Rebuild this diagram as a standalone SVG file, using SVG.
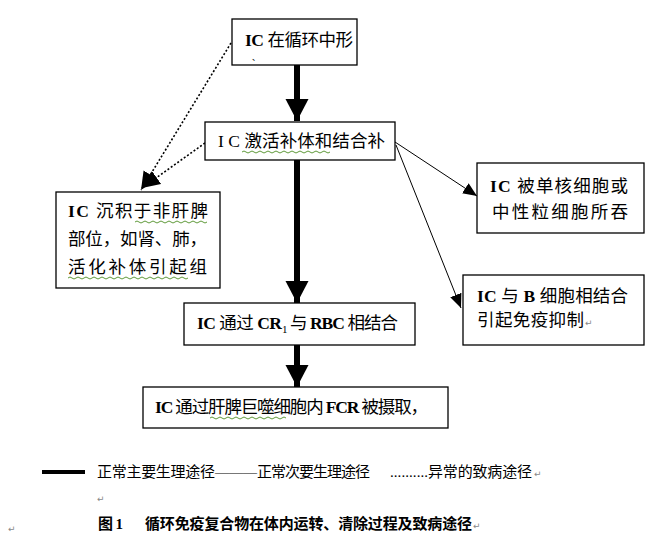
<svg xmlns="http://www.w3.org/2000/svg" width="665" height="540" viewBox="0 0 665 540">
<defs>
<style>
.box{fill:#fff;stroke:#000;stroke-width:1.3}
.t{font-family:"Liberation Serif","Noto Sans CJK SC",serif;font-size:17.5px;fill:#000}
.lt{font-family:"Liberation Serif","Noto Sans CJK SC",serif;font-size:15px;fill:#000}
.b{font-weight:bold}
.ret{font-family:"DejaVu Sans",sans-serif;font-size:9px;fill:#888}
.wave{fill:none;stroke:#5f9a3a;stroke-width:1}
.thick{stroke:#000;stroke-width:6;fill:none}
.thin{stroke:#000;stroke-width:1;fill:none}
.dot{stroke:#000;stroke-width:1.6;stroke-dasharray:2 2;fill:none}
</style>
<marker id="mThick" markerUnits="userSpaceOnUse" markerWidth="24" markerHeight="24" refX="22" refY="11.5" orient="auto"><path d="M0,0 L22,11.5 L0,23 z" fill="#000"/></marker>
<marker id="mThin" markerUnits="userSpaceOnUse" markerWidth="16" markerHeight="14" refX="14" refY="6" orient="auto"><path d="M0,0 L14,6 L0,12 z" fill="#000"/></marker>
<marker id="mDot" markerUnits="userSpaceOnUse" markerWidth="20" markerHeight="18" refX="18" refY="8" orient="auto"><path d="M0,0 L18,8 L0,16 z" fill="#000"/></marker>
</defs>
<rect width="665" height="540" fill="#fff"/>

<g id="connectors">
<line class="thick" x1="297" y1="65" x2="297" y2="121" marker-end="url(#mThick)"/>
<line class="thick" x1="297" y1="160" x2="297" y2="303" marker-end="url(#mThick)"/>
<line class="thick" x1="297" y1="345" x2="297" y2="387" marker-end="url(#mThick)"/>
<line class="thin" x1="395" y1="142" x2="477" y2="196" marker-end="url(#mThin)"/>
<line class="thin" x1="396" y1="145" x2="461" y2="308" marker-end="url(#mThin)"/>
<line class="dot" x1="231" y1="43" x2="141" y2="190" marker-end="url(#mDot)"/>
<line class="dot" x1="205" y1="143" x2="142" y2="188" marker-end="url(#mDot)"/>
</g>

<g id="n1">
<rect class="box" x="232" y="19" width="125" height="46"/>
<text class="t" x="245" y="46" textLength="108" lengthAdjust="spacing"><tspan class="b">IC</tspan> 在循环中形</text>
<text class="t" x="252" y="60" style="font-size:8px">、</text>
</g>

<g id="n2">
<rect class="box" x="205" y="122" width="190" height="38"/>
<text class="t" x="218" y="147" textLength="167" lengthAdjust="spacing">I C 激活补体和结合补</text>
<path class="wave" d="M242,152 q2,-2 4,0 t4,0 t4,0 t4,0 t4,0 t4,0 t4,0 t4,0 t4,0 t4,0 t4,0 t4,0 t4,0 t4,0 t4,0 t4,0 t4,0 t4,0 t4,0 t4,0 t4,0 t4,0"/>
</g>

<g id="n3">
<rect class="box" x="56" y="192" width="164" height="96"/>
<text class="t" x="68" y="217" textLength="140" lengthAdjust="spacing"><tspan class="b">IC</tspan>  沉积于非肝脾</text>
<text class="t" x="68" y="245" textLength="139" lengthAdjust="spacing">部位，如肾、肺，</text>
<text class="t" x="68" y="273" textLength="139" lengthAdjust="spacing">活化补体引起组</text>
<path class="wave" d="M135,222 q2,-2 4,0 t4,0 t4,0 t4,0 t4,0 t4,0 t4,0 t4,0 t4,0 t4,0 t4,0 t4,0 t4,0 t4,0 t4,0 t4,0 t4,0 t4,0"/>
<path class="wave" d="M68,278 q2,-2 4,0 t4,0 t4,0 t4,0 t4,0 t4,0 t4,0 t4,0 t4,0 t4,0 t4,0 t4,0 t4,0 t4,0 t4,0 t4,0 t4,0 t4,0 t4,0 t4,0 t4,0 t4,0 t4,0 t4,0 t4,0 t4,0 t4,0 t4,0 t4,0 t4,0"/>
</g>

<g id="n4">
<rect class="box" x="184" y="303" width="231" height="42"/>
<text class="t" x="197" y="329" textLength="85" lengthAdjust="spacing"><tspan class="b">IC</tspan> 通过 <tspan class="b">CR</tspan></text>
<text class="t" x="282" y="333" style="font-size:11px">1</text>
<text class="t" x="290" y="329" textLength="108" lengthAdjust="spacing">与 <tspan class="b">RBC</tspan> 相结合</text>
</g>

<g id="n5">
<rect class="box" x="143" y="387" width="305" height="41"/>
<text class="t" x="155" y="413" textLength="273" lengthAdjust="spacing"><tspan class="b">IC</tspan> 通过肝脾巨噬细胞内 <tspan class="b">FCR</tspan> 被摄取，</text>
<path class="wave" d="M210,418 q2,-2 4,0 t4,0 t4,0 t4,0 t4,0 t4,0 t4,0 t4,0 t4,0 t4,0 t4,0 t4,0 t4,0 t4,0 t4,0 t4,0 t4,0 t4,0 t4,0"/>
</g>

<g id="n6">
<rect class="box" x="477" y="163" width="167" height="70"/>
<text class="t" x="490" y="192" textLength="138" lengthAdjust="spacing"><tspan class="b">IC</tspan>  被单核细胞或</text>
<text class="t" x="492" y="218" textLength="136" lengthAdjust="spacing">中性粒细胞所吞</text>
</g>

<g id="n7">
<rect class="box" x="463" y="275" width="181" height="70"/>
<text class="t" x="477" y="302" textLength="151" lengthAdjust="spacing"><tspan class="b">IC</tspan> 与 <tspan class="b">B</tspan> 细胞相结合</text>
<text class="t" x="477" y="326" textLength="107" lengthAdjust="spacing">引起免疫抑制</text>
<text class="ret" x="585" y="326">↵</text>
</g>

<g id="legend">
<line x1="42" y1="472" x2="85" y2="472" stroke="#000" stroke-width="4"/>
<text class="lt" x="97" y="477" textLength="118" lengthAdjust="spacing">正常主要生理途径</text>
<text class="lt" x="215" y="477" textLength="42" lengthAdjust="spacingAndGlyphs" style="font-family:'Liberation Serif',serif">———</text>
<text class="lt" x="257" y="477" textLength="113" lengthAdjust="spacing">正常次要生理途径</text>
<text class="lt" x="390" y="477" textLength="38" lengthAdjust="spacing" style="font-family:'Liberation Serif',serif">..........</text>
<text class="lt" x="428" y="477" textLength="104" lengthAdjust="spacing">异常的致病途径</text>
<text class="ret" x="534" y="477">↵</text>
<text class="ret" x="97" y="502">↵</text>
</g>

<g id="caption">
<text class="lt b" x="98" y="529" textLength="25" lengthAdjust="spacing">图 1</text>
<text class="lt b" x="145" y="529" textLength="327" lengthAdjust="spacing">循环免疫复合物在体内运转、清除过程及致病途径</text>
<text class="ret" x="473" y="529">↵</text>
<text class="ret" x="8" y="532">↵</text>
</g>
</svg>
